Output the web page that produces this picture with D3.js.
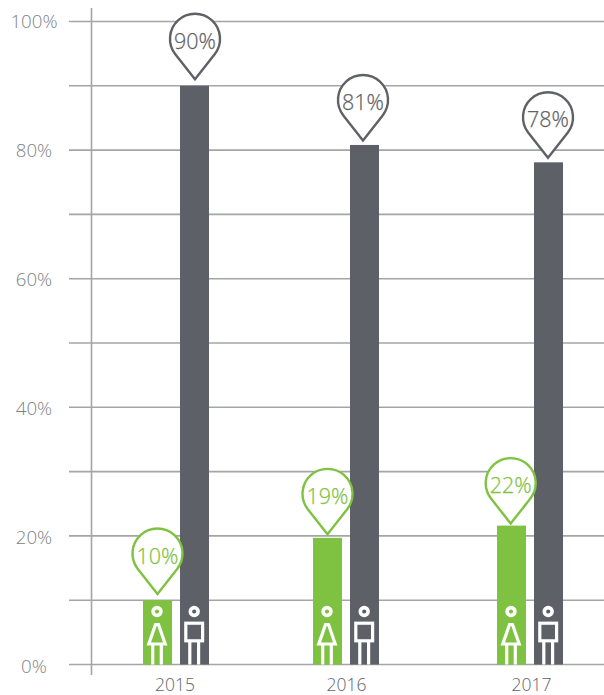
<!DOCTYPE html>
<html><head><meta charset="utf-8">
<script src="https://cdn.jsdelivr.net/npm/d3@7"></script>
<style>html,body{margin:0;padding:0;background:#fff}svg{display:block}text{font-family:"Open Sans",sans-serif}</style>
</head><body><svg id="c" width="604" height="695"></svg>
<script>
const years = ["2015","2016","2017"];
const women = [10,19.7,21.6];
const men = [90,80.8,78.1];
const womenLabels = ["10%","19%","22%"];
const menLabels = ["90%","81%","78%"];
const yTicks = [0,10,20,30,40,50,60,70,80,90,100];
const yLabelTicks = [0,20,40,60,80,100];
const green="#7fc241", dark="#5d6067", grid="#a3a5a8", pinDark="#5f6165";
const svg=d3.select("#c");
const y=d3.scaleLinear().domain([0,100]).range([664.5,21.5]);
const yLab=d3.scaleLinear().domain([0,100]).range([673.3,28.3]);
const x=d3.scaleOrdinal().domain(years).range([176,346,530]);
const xLab=d3.scaleOrdinal().domain(years).range([175,346.5,531.5]);
const barW=29, gap=4;
// grid
svg.append("g").selectAll("line").data(yTicks).join("line")
  .attr("x1",69).attr("x2",604).attr("y1",d=>y(d)).attr("y2",d=>y(d))
  .attr("stroke",grid).attr("stroke-width",1.6);
svg.append("line").attr("x1",91.5).attr("x2",91.5).attr("y1",8).attr("y2",675).attr("stroke",grid).attr("stroke-width",1.6);
svg.append("g").selectAll("text").data(yLabelTicks).join("text")
  .attr("x",34).attr("y",d=>yLab(d)).attr("text-anchor","middle").attr("font-size",18.7).attr("font-weight",300)
  .attr("fill","#808285").text(d=>d+"%");
svg.append("g").selectAll("text").data(years).join("text")
  .attr("x",d=>xLab(d)).attr("y",691).attr("text-anchor","middle").attr("font-size",17.5).attr("font-weight",300)
  .attr("fill","#626469").text(d=>d);
// bars
const gx=d=>x(d)-gap-barW, mx=d=>x(d)+gap;
svg.append("g").selectAll("rect").data(years).join("rect")
  .attr("x",gx).attr("width",barW).attr("y",(d,i)=>y(women[i])).attr("height",(d,i)=>y(0)-y(women[i])).attr("fill",green);
svg.append("g").selectAll("rect").data(years).join("rect")
  .attr("x",mx).attr("width",barW).attr("y",(d,i)=>y(men[i])).attr("height",(d,i)=>y(0)-y(men[i])).attr("fill",dark);
// pins
function pinPath(r,h){
  const a=Math.asin(r/h), tx=r*Math.cos(a), ty=r*Math.sin(a);
  return `M0,${h}L${tx},${ty}A${r},${r} 0 1 0 ${-tx},${ty}Z`;
}
function pins(vals,labels,lift,nudge,cx,col){
  const g=svg.append("g").selectAll("g").data(years).join("g")
    .attr("transform",(d,i)=>`translate(${cx(d)+nudge[i]},${y(vals[i])-lift[i]})`);
  g.append("path").attr("d",pinPath(25,40.5)).attr("fill","#fff").attr("stroke",col).attr("stroke-width",2.4).attr("stroke-linejoin","miter");
  g.append("text").attr("y",10).attr("text-anchor","middle").attr("font-size",21.5).attr("font-weight",300)
   .attr("fill",col).attr("stroke",col).attr("stroke-width",0.25).text((d,i)=>labels[i]);
}
pins(women,womenLabels,[46.7,44,42.5],[0,0,-0.8],d=>gx(d)+barW/2,green);
pins(men,menLabels,[47,45,45],[0.5,-1.5,-0.5],d=>mx(d)+barW/2,pinDark);
// icons
const baseY=y(0);
function head(g){g.append("circle").attr("cx",0).attr("cy",-53).attr("r",3.9).attr("fill","none").attr("stroke","#fff").attr("stroke-width",3.6);}
const fg=svg.append("g").selectAll("g").data(years).join("g").attr("transform",d=>`translate(${gx(d)+barW/2-0.5},${baseY})`)
  .attr("fill","none").attr("stroke","#fff").attr("stroke-width",3.2);
head(fg);
fg.append("path").attr("d","M-1.5,-40L1.5,-40L8.2,-20.5L-8.2,-20.5Z");
fg.append("path").attr("d","M-4.3,-20.5V0M4.3,-20.5V0");
const mg=svg.append("g").selectAll("g").data(years).join("g").attr("transform",d=>`translate(${mx(d)+barW/2-0.3},${baseY})`)
  .attr("fill","none").attr("stroke","#fff").attr("stroke-width",3.2);
head(mg);
mg.append("rect").attr("x",-8.4).attr("y",-41.3).attr("width",16.8).attr("height",17.6);
mg.append("path").attr("d","M-4.4,-23.7V0M4.4,-23.7V0");
</script></body></html>
